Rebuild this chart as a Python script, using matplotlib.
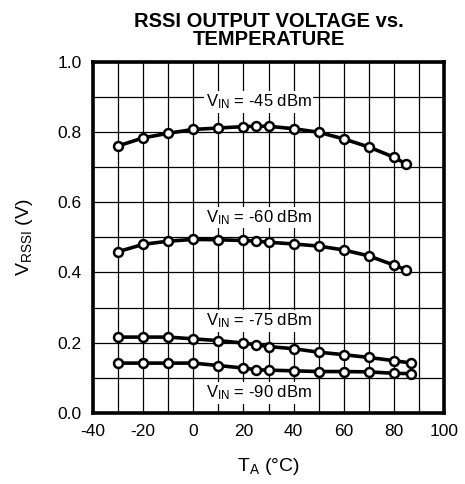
import matplotlib.pyplot as plt
import numpy as np

plt.rcParams['font.family'] = ['Liberation Sans', 'DejaVu Sans']
plt.rcParams['axes.unicode_minus'] = False

# Temperatura (°C)
temp_alto = [-30, -20, -10, 0, 10, 20, 25, 30, 40, 50, 60, 70, 80, 85]
temp_baixo = [-30, -20, -10, 0, 10, 20, 25, 30, 40, 50, 60, 70, 80, 87]

# Tensão RSSI (V) para cada nível de entrada
v_45 = [0.760, 0.783, 0.796, 0.807, 0.811, 0.815, 0.816, 0.816, 0.809, 0.799, 0.780, 0.757, 0.728, 0.708]
v_60 = [0.459, 0.480, 0.489, 0.494, 0.493, 0.491, 0.489, 0.486, 0.481, 0.475, 0.464, 0.447, 0.421, 0.407]
v_75 = [0.216, 0.216, 0.216, 0.211, 0.206, 0.199, 0.194, 0.189, 0.183, 0.173, 0.166, 0.158, 0.149, 0.142]
v_90 = [0.142, 0.142, 0.142, 0.142, 0.135, 0.128, 0.123, 0.122, 0.120, 0.118, 0.118, 0.117, 0.113, 0.112]

rotulos = ['-45', '-60', '-75', '-90']
pos_rotulos = [0.885, 0.557, 0.262, 0.057]

fig = plt.figure(figsize=(4.65, 4.84), dpi=100)
ax = fig.add_axes([0.2, 0.1467, 0.755, 0.726])

for t, v in [(temp_alto, v_45), (temp_alto, v_60), (temp_baixo, v_75), (temp_baixo, v_90)]:
    ax.plot(t, v, color='black', linewidth=2.6, marker='o', markersize=6.4,
            markerfacecolor='white', markeredgecolor='black', markeredgewidth=1.8, zorder=3)

for r, y in zip(rotulos, pos_rotulos):
    ax.text(26, y, r'$\mathregular{V_{IN}}$ = ' + r + ' dBm', ha='center', va='center',
            fontsize=12, zorder=2,
            bbox=dict(facecolor='white', edgecolor='none', pad=1.0))

ax.set_xlim(-40, 100)
ax.set_ylim(0, 1.0)
ax.set_xticks(np.arange(-40, 101, 20))
ax.set_yticks(np.arange(0, 1.01, 0.2))
ax.set_yticklabels([f'{v:.1f}' for v in np.arange(0, 1.01, 0.2)])
ax.set_xticks(np.arange(-40, 101, 10), minor=True)
ax.set_yticks(np.arange(0, 1.01, 0.1), minor=True)
ax.grid(True, which='both', color='black', linewidth=0.9)
ax.set_axisbelow(True)
ax.tick_params(which='both', length=0, labelsize=12.5, pad=8)

for s in ax.spines.values():
    s.set_linewidth(2.6)

ax.set_xlabel(r'$\mathregular{T_A}$ (°C)', fontsize=14, labelpad=12)
ax.set_ylabel(r'$\mathregular{V_{RSSI}}$ (V)', fontsize=14, labelpad=16)
ax.set_title('RSSI OUTPUT VOLTAGE vs.\nTEMPERATURE', fontsize=14.5, fontweight='bold',
             linespacing=0.95, pad=12)

plt.savefig('out.png', dpi=100)
